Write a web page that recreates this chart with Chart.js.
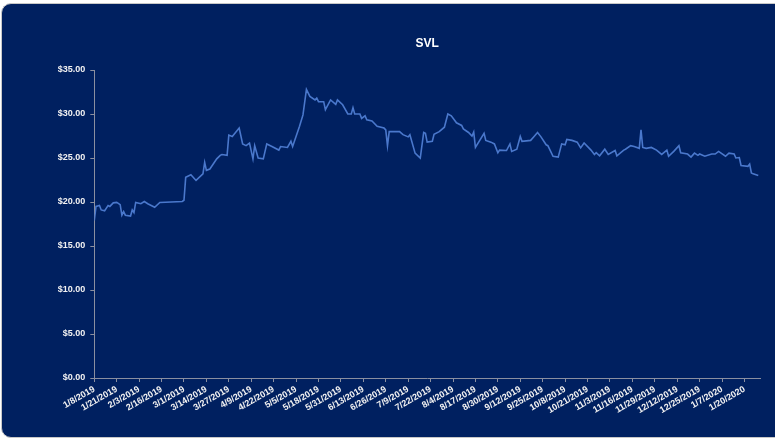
<!DOCTYPE html>
<html>
<head>
<meta charset="utf-8">
<script src="https://cdn.jsdelivr.net/npm/chart.js@4"></script>
<style>
  html, body { margin: 0; padding: 0; background: #ffffff; }
  #panel {
    position: absolute; left: 1px; top: 3px; width: 800px; height: 433px;
    background: #002060; border: 1px solid #c8c8c8; border-radius: 10px;
  }
  #wrap { position: absolute; left: 0; top: 0; width: 775px; height: 439px; }
</style>
</head>
<body>
<div id="panel"></div>
<div id="wrap"><canvas id="myChart"></canvas></div>
<script>
// days counted from 1/8/2019, closing price
const days = [0, 1, 3, 4, 6, 7, 8, 9, 11, 13, 15, 16, 17, 18, 21, 22, 23, 24, 27, 29, 31, 35, 38, 51,
  52, 53, 56, 59, 63, 64, 65, 67, 71, 73, 74, 77, 78, 80, 84, 86, 88, 90, 92, 93, 95, 98, 100, 103,
  107, 108, 112, 114, 115, 119, 121, 123, 125, 128, 129, 130, 133, 134, 137, 140, 141, 144, 147,
  149, 150, 151, 154, 155, 157, 158, 161, 164, 168, 169, 170, 171, 177, 179, 182, 183, 186, 189,
  191, 192, 193, 196, 197, 200, 203, 205, 207, 210, 213, 214, 217, 219, 220, 221, 226, 227, 230,
  232, 234, 235, 239, 241, 242, 245, 247, 248, 253, 255, 257, 259, 262, 263, 266, 269, 271, 273,
  274, 277, 280, 282, 284, 288, 290, 291, 293, 296, 298, 302, 303, 307, 308, 311, 313, 316, 317,
  318, 320, 323, 326, 329, 332, 333, 336, 339, 340, 344, 346, 348, 350, 351, 354, 358, 360, 362,
  366, 368, 371, 372, 374, 375, 379, 380, 381, 382, 385];
const prices = [17.9, 19.5, 19.6, 19.1, 19.0, 19.3, 19.6, 19.5, 19.9, 19.95, 19.7, 18.5, 18.9, 18.5,
  18.4, 19.1, 18.8, 19.95, 19.8, 20.06, 19.8, 19.4, 19.95, 20.06,
  20.2, 22.8, 23.1, 22.45, 23.2, 24.5, 23.6, 23.75, 24.9, 25.3, 25.4, 25.3, 27.6, 27.45, 28.4, 26.6,
  26.4, 26.7, 24.9, 26.4, 25.0, 24.9, 26.6, 26.3,
  25.9, 26.3, 26.2, 26.9, 26.3, 28.6, 29.9, 32.8, 32.0, 31.6, 31.8, 31.4, 31.4, 30.5, 31.6, 31.1,
  31.6, 31.05, 30.0,
  30.0, 30.7, 30.0, 30.0, 29.5, 29.8, 29.35, 29.2, 28.6, 28.4, 28.2, 26.4, 28.0, 28.0, 27.65, 27.4,
  27.65, 25.55, 25.0,
  27.9, 27.8, 26.8, 26.9, 27.7, 28.0, 28.5, 30.0, 29.8, 29.0, 28.7, 28.3, 27.9, 27.5, 27.95, 26.2,
  27.8, 27.0, 26.8,
  26.6, 25.6, 25.9, 25.85, 26.6, 25.75, 26.0, 27.45, 26.9, 27.0, 27.45, 27.9, 27.4, 26.5, 26.4, 25.2,
  25.1, 26.6, 26.5,
  27.1, 27.0, 26.8, 26.15, 26.7, 25.9, 25.4, 25.6, 25.25, 26.0, 25.4, 25.85, 25.25, 25.9, 26.0, 26.4,
  26.3, 26.1, 28.2,
  26.2, 26.1, 26.2, 25.9, 25.4, 25.9, 25.2, 25.75, 26.4, 25.6, 25.45, 25.1, 25.55, 25.3, 25.45, 25.2,
  25.45, 25.45, 25.75,
  25.2, 25.55, 25.45, 25.0, 25.05, 24.15, 24.05, 24.3, 23.3, 23.2, 23.0];
// one tick every 13 days
const tickLabels = ['1/8/2019', '1/21/2019', '2/3/2019', '2/16/2019', '3/1/2019', '3/14/2019',
  '3/27/2019', '4/9/2019', '4/22/2019', '5/5/2019', '5/18/2019', '5/31/2019', '6/13/2019',
  '6/26/2019', '7/9/2019', '7/22/2019', '8/4/2019', '8/17/2019', '8/30/2019', '9/12/2019',
  '9/25/2019', '10/8/2019', '10/21/2019', '11/3/2019', '11/16/2019', '11/29/2019', '12/12/2019',
  '12/25/2019', '1/7/2020', '1/20/2020'];
const tickStep = 13;
const lastDay = 386;

let points = days.map(function(d, i) {
    return { x: d, y: prices[i] };
});

var ctx = document.getElementById('myChart');
Chart.defaults.font.family = '"Liberation Sans", Arial, sans-serif';

new Chart(ctx, {
    type: 'line',
    data: {
        datasets: [
            {
                label: 'SVL',
                data: points,
                borderColor: '#4a78cc',
                borderWidth: 1.6,
                pointRadius: 0,
                tension: 0,
                fill: false
            }
        ]
    },
    options: {
        responsive: true,
        maintainAspectRatio: false,
        animation: false,
        layout: { padding: { left: 0, right: 15, top: 0, bottom: 0 } },
        plugins: {
            legend: { display: false },
            tooltip: { enabled: false },
            title: {
                display: true,
                text: 'SVL',
                color: '#ffffff',
                fullSize: false,
                font: { size: 12, weight: 'bold' },
                padding: { top: 36, bottom: 19.6 }
            }
        },
        scales: {
            x: {
                type: 'linear',
                min: 0,
                max: lastDay,
                afterBuildTicks: function(scale) {
                    scale.ticks = tickLabels.map(function(l, i) {
                        return { value: i * tickStep };
                    });
                },
                afterFit: function(scale) { scale.height = 61; },
                border: { display: true, color: '#8a8fa0', width: 1 },
                grid: { display: true, drawOnChartArea: false, drawTicks: true, tickLength: 4, color: '#8a8fa0' },
                ticks: {
                    autoSkip: false,
                    minRotation: 30,
                    maxRotation: 30,
                    padding: 2,
                    color: '#f2f2f2',
                    font: { size: 9, weight: 'bold' },
                    callback: function(value) {
                        return tickLabels[Math.round(value / tickStep)];
                    }
                }
            },
            y: {
                min: 0,
                max: 35,
                afterFit: function(scale) { scale.width = 94.3; },
                border: { display: true, color: '#8a8fa0', width: 1 },
                grid: { display: true, drawOnChartArea: false, drawTicks: true, tickLength: 4, color: '#8a8fa0' },
                ticks: {
                    stepSize: 5,
                    padding: 5,
                    color: '#f2f2f2',
                    font: { size: 9, weight: 'bold' },
                    callback: function(value) {
                        return '$' + value.toFixed(2);
                    }
                }
            }
        }
    }
});
</script>
</body>
</html>
